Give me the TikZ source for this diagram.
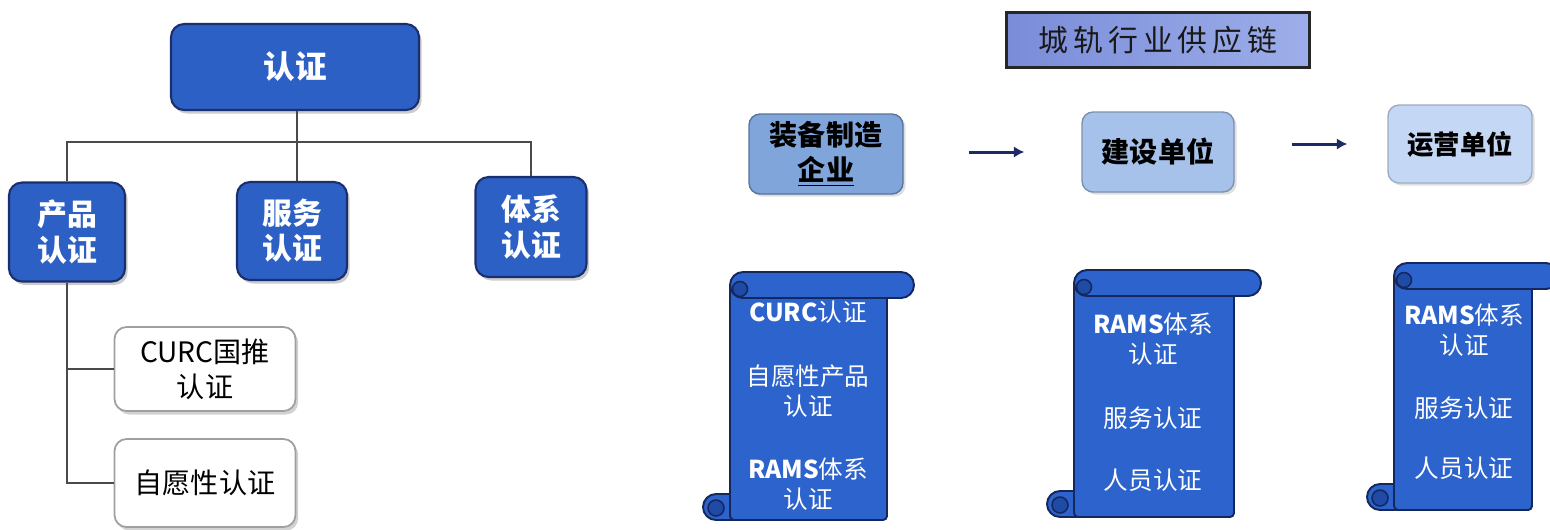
\documentclass[tikz,border=0pt]{standalone}
\usepackage{fontspec}
\setmainfont{Noto Sans CJK SC}
\usetikzlibrary{shadows,arrows.meta}
\definecolor{tblue}{HTML}{2C60C4}
\definecolor{tedge}{HTML}{1B2F6E}
\definecolor{sblue}{HTML}{2D63CC}
\definecolor{sedge}{HTML}{14285E}
\definecolor{curl}{HTML}{1F4BA6}
\definecolor{titleA}{HTML}{7A8CD8}
\definecolor{titleB}{HTML}{9DAEEA}
\definecolor{supA}{HTML}{7FA5DB}
\definecolor{supB}{HTML}{A6C2EA}
\definecolor{supC}{HTML}{C4D7F4}
\definecolor{lineg}{HTML}{4A4A4A}
\definecolor{arrowc}{HTML}{1C2A66}
\newcommand\myscroll[4]{% #1 left, #2 top, #3 body width, #4 height
\begin{scope}[shift={(#1,#2)}]
  % bottom roll (left part visible)
  \draw[fill=sblue, draw=sedge, line width=1.1pt, rounded corners=0.26cm] (-27,#4-26) rectangle (20,#4);
  % body
  \draw[fill=sblue, draw=sedge, line width=1.1pt, rounded corners=0.08cm] (0,10) rectangle (#3,#4);
  % top roll
  \draw[fill=sblue, draw=sedge, line width=1.1pt, rounded corners=0.26cm] (0,0) rectangle (#3+27,26);
  % curls
  \draw[fill=curl, draw=sedge, line width=0.9pt] (10,17) circle[radius=0.15cm];
  \draw[fill=curl, draw=sedge, line width=0.9pt] (-14,#4-12) circle[radius=0.16cm];
\end{scope}}
\begin{document}
\begin{tikzpicture}[x=0.02cm,y=-0.02cm,
  bluebox/.style={draw=tedge, line width=1.2pt, fill=tblue, rounded corners=0.26cm,
    text=white, inner sep=0pt, align=center,
    drop shadow={opacity=0.4, shadow xshift=1.5pt, shadow yshift=-2pt},
    font=\fontsize{17}{20}\selectfont\bfseries},
  whitebox/.style={draw=gray!75, line width=1pt, fill=white, rounded corners=0.24cm,
    text=black, inner sep=0pt, align=center,
    drop shadow={opacity=0.35, shadow xshift=1.5pt, shadow yshift=-2pt},
    font=\fontsize{16}{20}\selectfont},
  tline/.style={draw=lineg, line width=0.7pt},
  titlebox/.style={draw=black!85, line width=1.3pt, left color=titleA, right color=titleB,
    inner sep=0pt, text=black!90, font=\fontsize{17}{20}\selectfont},
  supbox/.style={rounded corners=0.22cm, line width=0.8pt, inner sep=0pt, align=center,
    text=black, drop shadow={opacity=0.25, shadow xshift=1.5pt, shadow yshift=-1.5pt},
    font=\fontsize{16}{20}\selectfont\bfseries},
  arr/.style={draw=arrowc, line width=1.7pt, -{Latex[length=6pt,width=6.5pt]}},
  stext/.style={text=white, align=center, inner sep=0pt, font=\fontsize{14}{17}\selectfont}
]
\useasboundingbox[fill=white] (0,0) rectangle (1550,529);

% ---------- left tree ----------
\node[bluebox, minimum width=4.96cm, minimum height=1.72cm, font=\fontsize{18}{22}\selectfont\bfseries] (root) at (295,67) {认证};
\node[bluebox, minimum width=2.32cm, minimum height=1.98cm] (c1) at (67,232) {产品\\认证};
\node[bluebox, minimum width=2.2cm, minimum height=1.96cm] (c2) at (292,231) {服务\\认证};
\node[bluebox, minimum width=2.22cm, minimum height=2.0cm] (c3) at (531,227) {体系\\认证};
\node[whitebox, minimum width=3.62cm, minimum height=1.68cm] (w1) at (205,369) {CURC国推\\认证};
\node[whitebox, minimum width=3.62cm, minimum height=1.76cm] (w2) at (205,483) {自愿性认证};

\coordinate (hb) at (297,142);
\draw[tline] (root.south -| hb) -- (hb);
\draw[tline] (c1.north) |- (hb) -| (c3.north);
\draw[tline] (hb) -- (hb |- c2.north);
\draw[tline] (c1.south) |- (w2.west);
\draw[tline] (c1.south |- w1.west) -- (w1.west);

% ---------- right: supply chain ----------
\node[titlebox, minimum width=6.06cm, minimum height=1.1cm] (title) at (1158,40) {城\,轨\,行\,业\,供\,应\,链};
\node[supbox, draw=supA!70!black, fill=supA, minimum width=3.08cm, minimum height=1.6cm] (s1) at (826,154) {装备制造\\\underline{企业}};
\node[supbox, draw=supB!75!black, fill=supB, minimum width=3.04cm, minimum height=1.6cm] (s2) at (1158,152) {建设单位};
\node[supbox, draw=supC!80!black, fill=supC, minimum width=2.88cm, minimum height=1.56cm, font=\fontsize{15}{18}\selectfont\bfseries] (s3) at (1460,144) {运营单位};

\draw[arr, shorten <=1.3cm, shorten >=1.14cm] (s1.east |- s2.west) -- (s2.west);
\draw[arr, shorten <=1.14cm, shorten >=0.8cm] (s2.east |- s3.west) -- (s3.west);

% ---------- scrolls ----------
\myscroll{730}{272}{157}{248}
\myscroll{1074}{270}{160}{247}
\myscroll{1394}{263}{138}{247}

\node[stext] (p1) at (808,312) {\textbf{CURC}认证};
\node[stext] (p2) at (808,391) {自愿性产品\\认证};
\node[stext] (p3) at (808,484) {\textbf{RAMS}体系\\认证};

\node[stext] (q1) at (1153,339) {\textbf{RAMS}体系\\认证};
\node[stext] (q2) at (1153,418) {服务认证};
\node[stext] (q3) at (1153,480) {人员认证};

\node[stext] (r1) at (1464,330) {\textbf{RAMS}体系\\认证};
\node[stext] (r2) at (1464,408) {服务认证};
\node[stext] (r3) at (1464,468) {人员认证};
\end{tikzpicture}
\end{document}
